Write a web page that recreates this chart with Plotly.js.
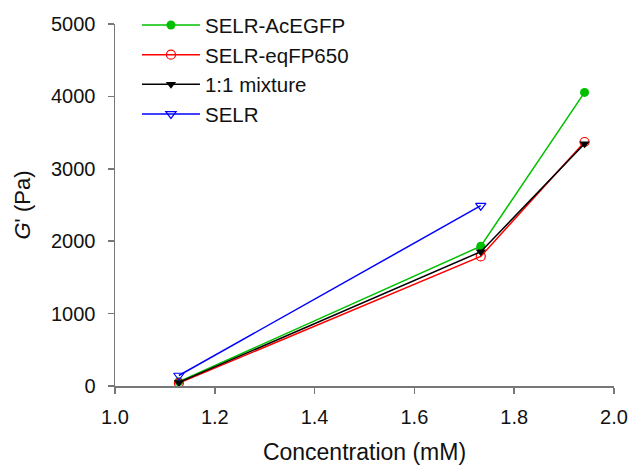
<!DOCTYPE html>
<html>
<head>
<meta charset="utf-8">
<script src="https://cdn.plot.ly/plotly-3.0.1.min.js"></script>
<style>html,body{margin:0;padding:0;background:#fff;}#chart{width:629px;height:465px;}</style>
</head>
<body>
<div id="chart"></div>
<script>
const concentration = [1.128, 1.733, 1.941];
const concentrationSELR = [1.128, 1.733];
const acegfp = [60, 1930, 4055];
const eqfp650 = [40, 1790, 3370];
const mixture = [50, 1855, 3345];
const selr = [145, 2490];
const seriesNames = ["SELR-AcEGFP", "SELR-eqFP650", "1:1 mixture", "SELR"];
const xTicks = [1.0, 1.2, 1.4, 1.6, 1.8, 2.0];
const yTicks = [0, 1000, 2000, 3000, 4000, 5000];

const traces = [
  {x: concentration, y: acegfp, name: seriesNames[0], mode: "lines+markers",
   line: {color: "#00c000", width: 1.5}, marker: {symbol: "circle", size: 9, color: "#00c000"}},
  {x: concentration, y: eqfp650, name: seriesNames[1], mode: "lines+markers",
   line: {color: "#ff0000", width: 1.5}, marker: {symbol: "circle-open", size: 9, color: "#ff0000", line: {width: 1.2}}},
  {x: concentration, y: mixture, name: seriesNames[2], mode: "lines+markers",
   line: {color: "#000000", width: 1.5}, marker: {symbol: "triangle-down", size: 9, color: "#000000"}},
  {x: concentrationSELR, y: selr, name: seriesNames[3], mode: "lines+markers",
   line: {color: "#0000ff", width: 1.5}, marker: {symbol: "triangle-down-open", size: 9, color: "#0000ff", line: {width: 1.2}}}
];

const fam = "Liberation Sans, Arial, sans-serif";
const layout = {
  width: 629, height: 465,
  margin: {l: 115, r: 15, t: 24, b: 79, autoexpand: false},
  paper_bgcolor: "#fff", plot_bgcolor: "#fff",
  font: {family: fam, size: 20, color: "#111"},
  showlegend: true,
  legend: {x: 0.044, y: 1.052, xanchor: "left", yanchor: "top", bgcolor: "rgba(0,0,0,0)",
           font: {family: fam, size: 20.5, color: "#111"}, tracegroupgap: 0, itemwidth: 58},
  xaxis: {
    range: [1.0, 2.0], tickvals: xTicks, ticktext: xTicks.map(v => v.toFixed(1)),
    showgrid: false, zeroline: false, showline: true, linecolor: "#777", linewidth: 1.5,
    ticks: "outside", ticklen: 6, tickcolor: "#777", tickwidth: 1.5, ticklabelstandoff: 6,
    tickfont: {family: fam, size: 20, color: "#111"},
    title: {text: "Concentration (mM)", font: {family: fam, size: 23, color: "#111"}, standoff: 24}
  },
  yaxis: {
    range: [0, 5000], tickvals: yTicks,
    showgrid: false, zeroline: false, showline: true, linecolor: "#777", linewidth: 1.5,
    ticks: "outside", ticklen: 6, tickcolor: "#777", tickwidth: 1.5, ticklabelstandoff: 8,
    tickfont: {family: fam, size: 20, color: "#111"},
    title: {text: "<i>G</i>' (Pa)", font: {family: fam, size: 22, color: "#111"}, standoff: 14}
  }
};
Plotly.newPlot("chart", traces, layout, {displayModeBar: false, staticPlot: true});
</script>
</body>
</html>
